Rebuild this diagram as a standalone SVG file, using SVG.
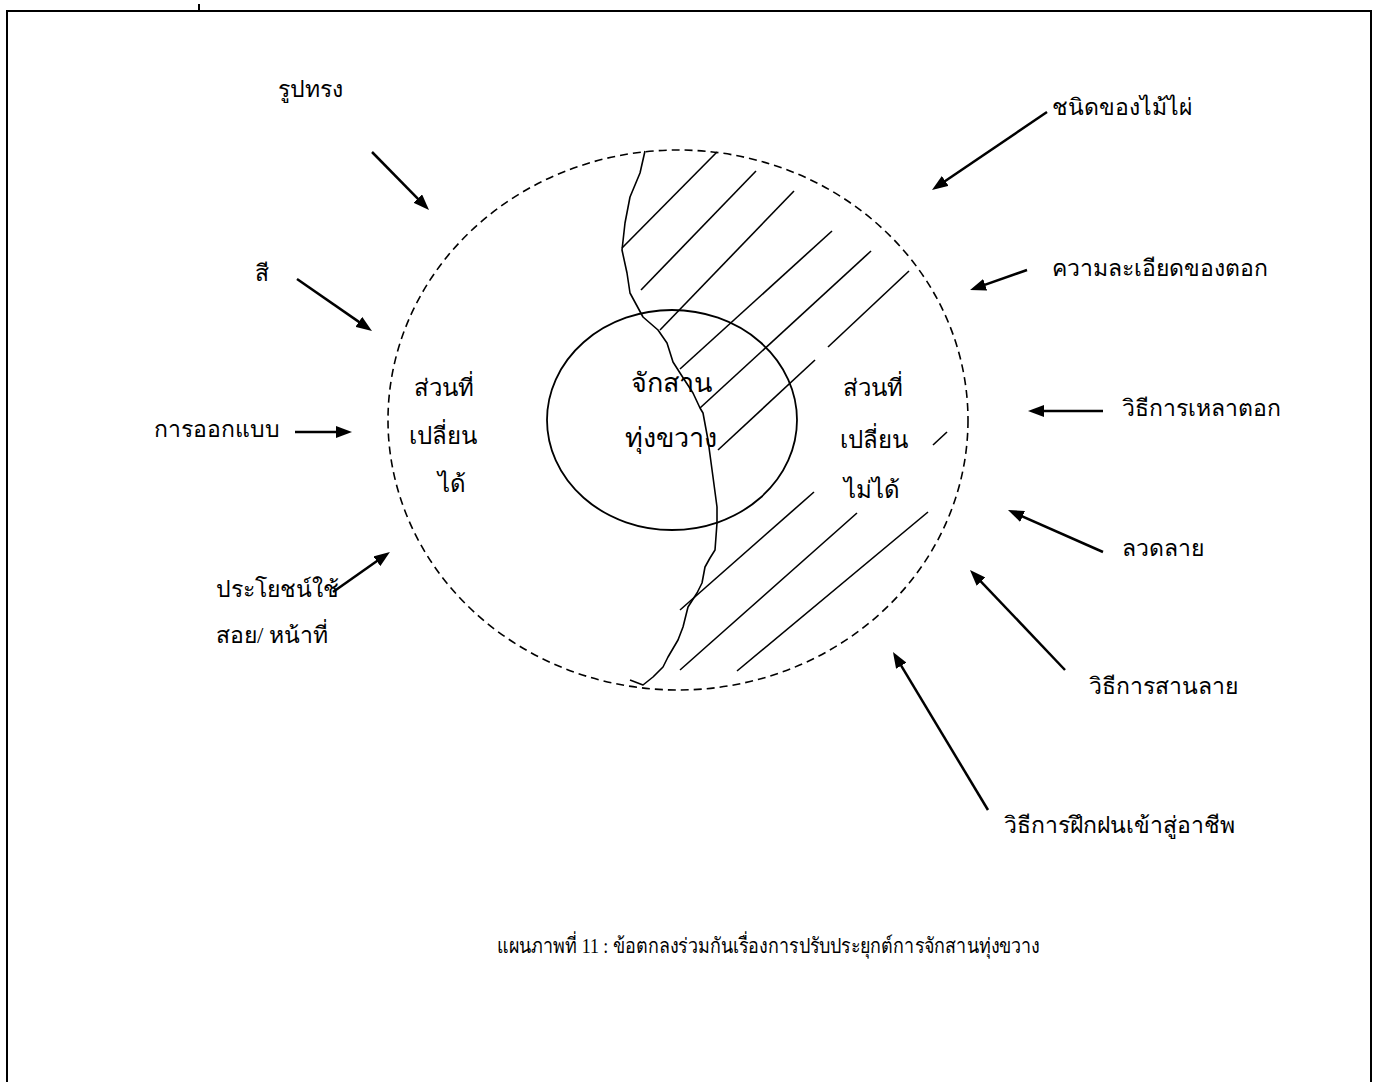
<svg xmlns="http://www.w3.org/2000/svg" width="1378" height="1082" viewBox="0 0 1378 1082">
<defs>
<marker id="ah" viewBox="0 0 16 12" refX="8" refY="6" markerWidth="16" markerHeight="12" orient="auto" markerUnits="userSpaceOnUse"><path d="M0,0 L16,6 L0,12 z" fill="#000"/></marker>
<style>
.lbl{font-family:"Liberation Serif",serif;font-size:23px;fill:#000}
.cap{font-family:"Liberation Serif",serif;font-size:21px;fill:#000}
.in{font-family:"Liberation Sans",sans-serif;font-size:24px;fill:#000;text-anchor:middle}
.core{font-family:"Liberation Sans",sans-serif;font-size:27px;fill:#000;text-anchor:middle}
.arr{stroke:#000;stroke-width:2.5;fill:none;marker-end:url(#ah)}
.hatch{stroke:#000;stroke-width:1.6;fill:none}
</style>
</defs>
<rect width="1378" height="1082" fill="#fff"/>
<g id="frame" fill="none" stroke="#000" stroke-width="2">
<path d="M7,1090 V11 H1371 V1090"/>
<path d="M199,4 V11"/>
</g>
<g id="outer-ellipse"><ellipse cx="678" cy="420" rx="290" ry="270" fill="none" stroke="#000" stroke-width="1.6" stroke-dasharray="8,5"/></g>
<g id="hatching" class="hatch">
<path d="M622,248 L717,152"/>
<path d="M641,290 L756,171"/>
<path d="M660,330 L794,191"/>
<path d="M680,369 L832,231"/>
<path d="M700,408 L871,251"/>
<path d="M718,450 L815,360"/>
<path d="M828,347 L909,271"/>
<path d="M933,445 L947,432"/>
<path d="M680,610 L814,492"/>
<path d="M680,670 L857,513"/>
<path d="M737,671 L928,512"/>
</g>
<g id="boundary"><path d="M645,151 L640,173 L630,197 L625,223 L622,250 L627,273 L630,293 L643,317 L658,330 L667,343 L673,362 L680,373 L693,393 L700,408 L703,413 L708,440 L713,477 L717,507 L717,523 L715,550 L710,558 L705,567 L702,583 L697,593 L688,607 L683,627 L678,640 L668,657 L663,667 L653,677 L643,685 L630,680" fill="none" stroke="#000" stroke-width="1.6" stroke-linejoin="round"/></g>
<g id="inner-circle"><ellipse cx="672" cy="420" rx="125" ry="110" fill="none" stroke="#000" stroke-width="1.8"/></g>
<g id="core-label"><text class="core" x="671" y="392">จักสาน</text><text class="core" x="671" y="447">ทุ่งขวาง</text></g>
<g id="changeable"><text class="in" x="444" y="396" font-size="23">ส่วนที่</text><text class="in" x="443" y="444" font-size="23">เปลี่ยน</text><text class="in" x="452" y="492" font-size="23">ได้</text></g>
<g id="unchangeable"><text class="in" x="873" y="396">ส่วนที่</text><text class="in" x="874" y="448">เปลี่ยน</text><text class="in" x="872" y="498">ไม่ได้</text></g>
<g id="connectors">
<line class="arr" x1="372" y1="152" x2="423.4" y2="204.3"/>
<line class="arr" x1="297" y1="279" x2="365.4" y2="326.4"/>
<line class="arr" x1="295" y1="432" x2="344" y2="432"/>
<line class="arr" x1="333" y1="592" x2="383.4" y2="556.6"/>
<line class="arr" x1="1047" y1="112" x2="938.6" y2="185.5"/>
<line class="arr" x1="1027" y1="270" x2="977.6" y2="287.4"/>
<line class="arr" x1="1103" y1="411" x2="1036" y2="411"/>
<line class="arr" x1="1103" y1="552" x2="1015.3" y2="513.2"/>
<line class="arr" x1="1065" y1="670" x2="975.5" y2="575.8"/>
<line class="arr" x1="988" y1="810" x2="897.1" y2="658.9"/>
</g>
<g id="n-shape"><text class="lbl" x="278" y="97">รูปทรง</text></g>
<g id="n-color"><text class="lbl" x="255" y="281">สี</text></g>
<g id="n-design"><text class="lbl" x="154" y="437">การออกแบบ</text></g>
<g id="n-function"><text class="lbl" x="216" y="597">ประโยชน์ใช้</text><text class="lbl" x="216" y="643">สอย/ หน้าที่</text></g>
<g id="n-bamboo"><text class="lbl" x="1052" y="115">ชนิดของไม้ไผ่</text></g>
<g id="n-fineness"><text class="lbl" x="1052" y="276">ความละเอียดของตอก</text></g>
<g id="n-shaving"><text class="lbl" x="1122" y="416">วิธีการเหลาตอก</text></g>
<g id="n-pattern"><text class="lbl" x="1122" y="556">ลวดลาย</text></g>
<g id="n-weaving"><text class="lbl" x="1089" y="694">วิธีการสานลาย</text></g>
<g id="n-training"><text class="lbl" x="1004" y="833">วิธีการฝึกฝนเข้าสู่อาชีพ</text></g>
<g id="caption"><text class="cap" x="497" y="953" textLength="543" lengthAdjust="spacingAndGlyphs">แผนภาพที่ 11 : ข้อตกลงร่วมกันเรื่องการปรับประยุกต์การจักสานทุ่งขวาง</text></g>
</svg>
